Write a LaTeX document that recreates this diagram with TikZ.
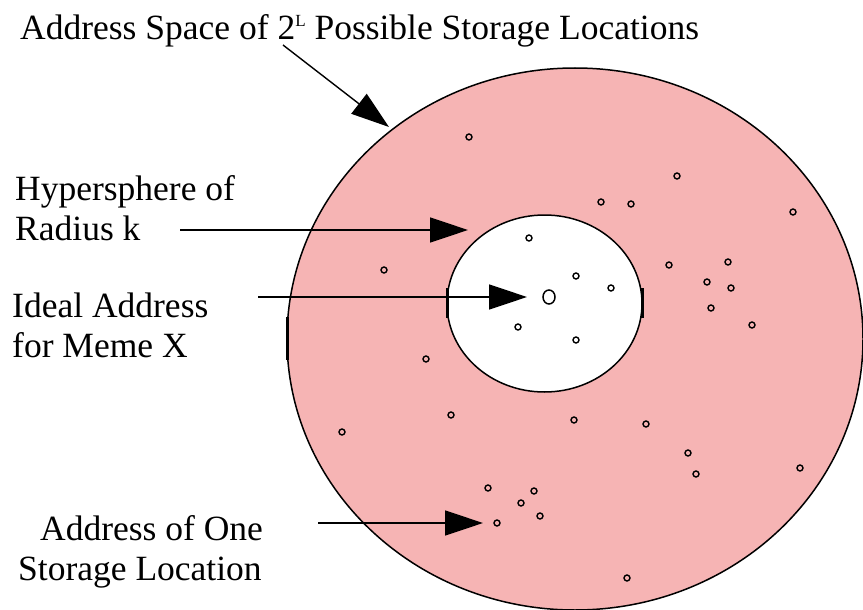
\documentclass[tikz,border=0pt]{standalone}
\usepackage{fontspec}
\setmainfont{Liberation Serif}
\usetikzlibrary{arrows.meta,shapes.geometric}
\definecolor{memepink}{RGB}{246,180,180}
\begin{document}
\begin{tikzpicture}[x=1pt,y=-1pt,
  lbl/.style={anchor=base west,inner sep=0pt,font=\fontsize{35.5}{40}\selectfont},
  arr/.style={line width=1.4pt,-{Triangle[length=38pt,width=25pt]}},
  region/.style={ellipse,draw,line width=1.5pt,inner sep=0pt},
  loc/.style={circle,draw,line width=1.4pt,inner sep=0pt,minimum size=6pt},
  edgemark/.style={line width=3pt}
]
\useasboundingbox (0,0) rectangle (863,610);
% address space and hypersphere
\node[region,fill=memepink,minimum width=576pt,minimum height=542pt] (space) at (575,339) {};
\node[region,fill=white,minimum width=195pt,minimum height=177pt] (sphere) at (544.5,303.5) {};
\draw[edgemark] (287,317) -- (287,360);
\draw[edgemark] (447,288) -- (447,318);
\draw[edgemark] (642,288) -- (642,318);
% ideal address
\node[loc,line width=1.5pt,minimum width=12pt,minimum height=14pt,ellipse] (ideal) at (549,297) {};
% storage locations
\foreach \i/\x/\y in {1/469/137,2/677/176,3/601/202,4/631/204,5/793/212,6/529/238,
  7/384/270,8/576/276,9/611/288,10/518/327,11/576/340,12/669/265,13/728/262,
  14/707/282,15/731/288,16/711/308,17/752/325,18/426/359,19/342/432,20/451/415,
  21/574/420,22/646/424,23/688/453,24/696/474,25/800/468,26/488/488,27/534/491,
  28/521/503,29/540/516,30/497/523,31/627/578}
  \node[loc] (l\i) at (\x,\y) {};
% labels
\node[lbl] (title) at (20,40) {Address Space of 2\raisebox{13pt}{\fontsize{17}{17}\selectfont L} Possible Storage Locations};
\node[lbl] (hyp1) at (15,200) {Hypersphere of};
\node[lbl] (hyp2) at (15,240) {Radius k};
\node[lbl] (ide1) at (12,317) {Ideal Address};
\node[lbl] (ide2) at (12,357) {for Meme X};
\node[lbl] (one1) at (40,540) {Address of One};
\node[lbl] (one2) at (18,580) {Storage Location};
% arrows
\coordinate (a1s) at (283,45);  \coordinate (a1e) at (389,127);
\coordinate (a2s) at (180,230); \coordinate (a2e) at (468,230);
\coordinate (a3s) at (258,297); \coordinate (a3e) at (527,297);
\coordinate (a4s) at (318,523); \coordinate (a4e) at (483,523);
\draw[arr] (a1s) -- (a1e);
\draw[arr] (a2s) -- (a2e);
\draw[arr] (a3s) -- (a3e);
\draw[arr] (a4s) -- (a4e);
\end{tikzpicture}
\end{document}
